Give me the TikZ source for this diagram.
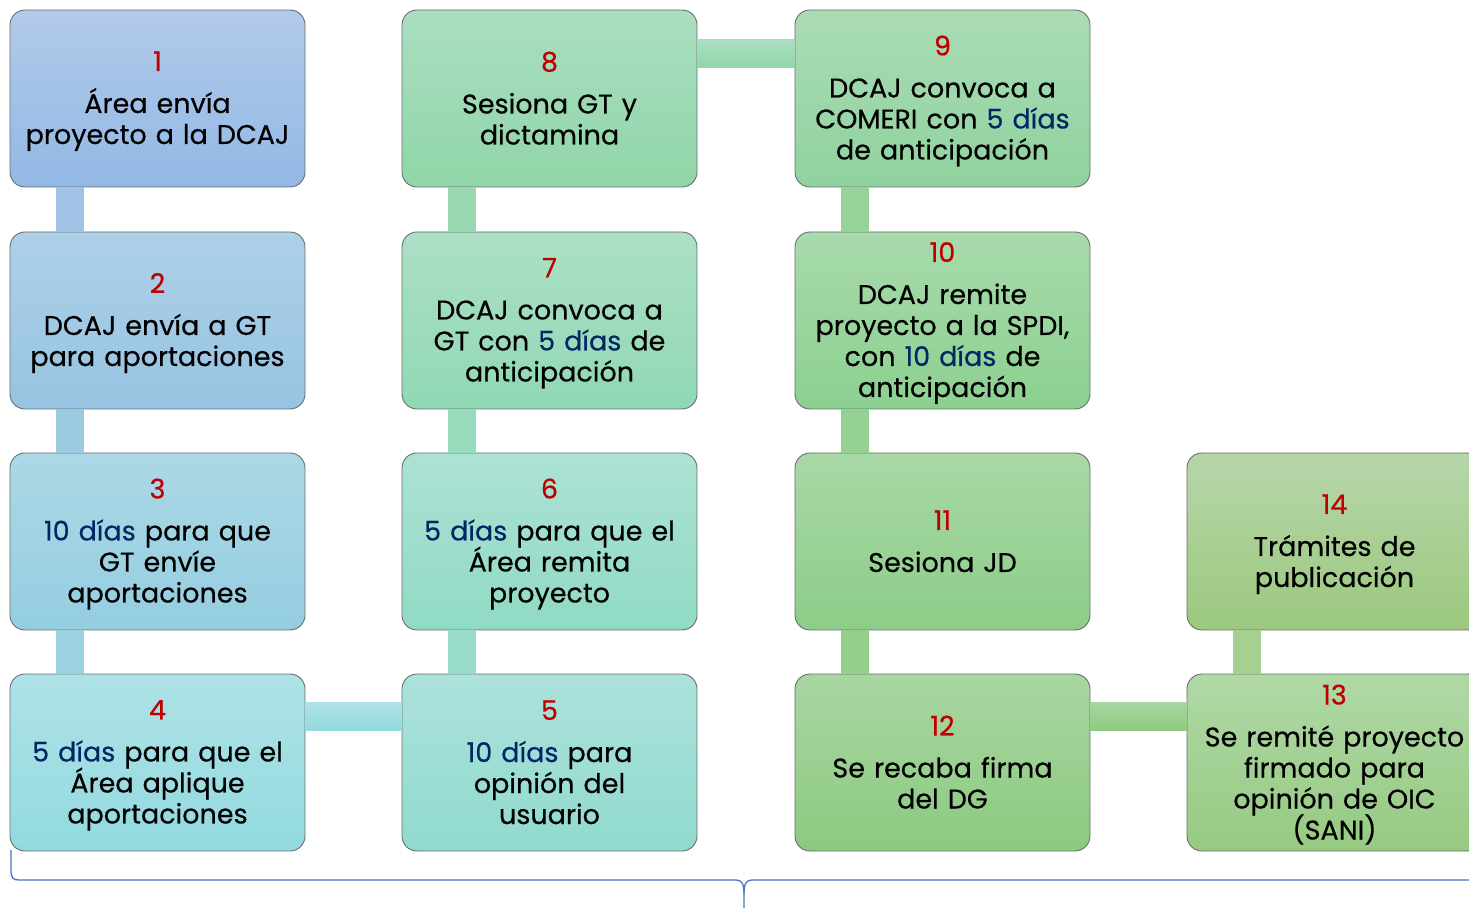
\documentclass[tikz,border=0pt]{standalone}
\usepackage{fontspec}
\setmainfont{Poppins}[RawFeature={embolden=0.4}]
\usetikzlibrary{positioning}
% Colors
\definecolor{numred}{RGB}{192,0,0}
\definecolor{diasblue}{RGB}{0,38,100}
\definecolor{bracecolor}{RGB}{72,114,196}
\definecolor{boxborder}{RGB}{105,110,108}
% box tops and bottoms
\definecolor{top1}{RGB}{178,202,234}  \definecolor{bot1}{RGB}{146,184,228}
\definecolor{top2}{RGB}{174,208,232}  \definecolor{bot2}{RGB}{150,196,226}
\definecolor{top3}{RGB}{172,216,230}  \definecolor{bot3}{RGB}{148,206,224}
\definecolor{top4}{RGB}{174,226,230}  \definecolor{bot4}{RGB}{146,218,224}
\definecolor{top5}{RGB}{172,226,220}  \definecolor{bot5}{RGB}{144,218,206}
\definecolor{top6}{RGB}{172,226,212}  \definecolor{bot6}{RGB}{144,218,196}
\definecolor{top7}{RGB}{172,224,198}  \definecolor{bot7}{RGB}{144,216,180}
\definecolor{top8}{RGB}{170,222,192}  \definecolor{bot8}{RGB}{144,214,168}
\definecolor{top9}{RGB}{170,220,182}  \definecolor{bot9}{RGB}{144,210,158}
\definecolor{top10}{RGB}{168,218,172} \definecolor{bot10}{RGB}{140,208,144}
\definecolor{top11}{RGB}{168,216,166} \definecolor{bot11}{RGB}{140,205,136}
\definecolor{top12}{RGB}{168,214,162} \definecolor{bot12}{RGB}{140,202,128}
\definecolor{top13}{RGB}{176,216,166} \definecolor{bot13}{RGB}{150,202,130}
\definecolor{top14}{RGB}{182,214,170} \definecolor{bot14}{RGB}{156,200,126}
% connectors
\definecolor{barA}{RGB}{160,194,229}
\definecolor{barB}{RGB}{156,202,225}
\definecolor{barC}{RGB}{154,210,225}
\definecolor{barD}{RGB}{153,219,202}
\definecolor{barE}{RGB}{153,219,189}
\definecolor{barF}{RGB}{153,216,177}
\definecolor{barG}{RGB}{150,211,154}
\definecolor{barH}{RGB}{149,209,146}
\definecolor{barI}{RGB}{149,207,140}
\definecolor{barJ}{RGB}{168,207,146}
\newcommand{\boxfont}{\fontsize{27}{31}\selectfont\lineskiplimit=-20pt\relax}
\tikzset{
    % Boxes
    stepbox/.style={draw=boxborder,line width=0.9pt,rounded corners=15pt,
        minimum width=295pt,minimum height=177pt,text width=292pt,
        align=center,inner sep=0pt,font=\boxfont,
        execute at end node={\rule[-6pt]{0pt}{6pt}}},
    shade box/.style={top color=top#1,bottom color=bot#1},
    %
    % Connectors
    vbar/.style={fill=#1,draw=none},
    hbar/.style 2 args={top color=#1,bottom color=#2,draw=none},
    %
    % Brace
    brace line/.style={bracecolor,line width=1.3pt}
}
\newcommand{\stepnum}[1]{\rule{0pt}{25pt}{\color{numred}#1}\\[11pt]}
\newcommand{\dias}[1]{{\color{diasblue}#1}}

\begin{document}
\begin{tikzpicture}[x=1pt,y=1pt]
        \useasboundingbox (0,0) rectangle (1469,908);
        \clip (0,0) rectangle (1469,908);
        
        % first column
        \node[stepbox,shade box=1] (b1) at (157.5,809.5)
            {\stepnum{1}Área envía\\proyecto a la DCAJ};
        \node[stepbox,shade box=2] (b2) at (157.5,587.5)
            {\stepnum{2}DCAJ envía a GT\\para aportaciones};
        \node[stepbox,shade box=3] (b3) at (157.5,366.5)
            {\stepnum{3}\dias{10 días} para que\\GT envíe\\aportaciones};
        \node[stepbox,shade box=4] (b4) at (157.5,145.5)
            {\stepnum{4}\dias{5 días} para que el\\Área aplique\\aportaciones};
        
        % second column
        \node[stepbox,shade box=5] (b5) at (549.5,145.5)
            {\stepnum{5}\dias{10 días} para\\opinión del\\usuario};
        \node[stepbox,shade box=6] (b6) at (549.5,366.5)
            {\stepnum{6}\dias{5 días} para que el\\Área remita\\proyecto};
        \node[stepbox,shade box=7] (b7) at (549.5,587.5)
            {\stepnum{7}DCAJ convoca a\\GT con \dias{5 días} de\\anticipación};
        \node[stepbox,shade box=8] (b8) at (549.5,809.5)
            {\stepnum{8}Sesiona GT y\\dictamina};
        
        % third column
        \node[stepbox,shade box=9] (b9) at (942.5,809.5)
            {\stepnum{9}DCAJ convoca a\\COMERI con \dias{5 días}\\de anticipación};
        \node[stepbox,shade box=10] (b10) at (942.5,587.5)
            {\stepnum{10}DCAJ remite\\proyecto a la SPDI,\\con \dias{10 días} de\\anticipación};
        \node[stepbox,shade box=11] (b11) at (942.5,366.5)
            {\stepnum{11}Sesiona JD};
        \node[stepbox,shade box=12] (b12) at (942.5,145.5)
            {\stepnum{12}Se recaba firma\\del DG};
        
        % fourth column
        \node[stepbox,shade box=13] (b13) at (1334.5,145.5)
            {\stepnum{13}Se remité proyecto\\firmado para\\opinión de OIC\\(SANI)};
        \node[stepbox,shade box=14] (b14) at (1334.5,366.5)
            {\stepnum{14}Trámites de\\publicación};
        
        % connectors
        \path[vbar=barA] ([xshift=46]b1.south west) rectangle ([xshift=74]b2.north west);
        \path[vbar=barB] ([xshift=46]b2.south west) rectangle ([xshift=74]b3.north west);
        \path[vbar=barC] ([xshift=46]b3.south west) rectangle ([xshift=74]b4.north west);
        \path[hbar={top4}{bot4}] ([yshift=-29]b4.north east) rectangle ([yshift=-57]b5.north west);
        \path[vbar=barD] ([xshift=46]b5.north west) rectangle ([xshift=74]b6.south west);
        \path[vbar=barE] ([xshift=46]b6.north west) rectangle ([xshift=74]b7.south west);
        \path[vbar=barF] ([xshift=46]b7.north west) rectangle ([xshift=74]b8.south west);
        \path[hbar={top8}{bot8}] ([yshift=-30]b8.north east) rectangle ([yshift=-58]b9.north west);
        \path[vbar=barG] ([xshift=46]b9.south west) rectangle ([xshift=74]b10.north west);
        \path[vbar=barH] ([xshift=46]b10.south west) rectangle ([xshift=74]b11.north west);
        \path[vbar=barI] ([xshift=46]b11.south west) rectangle ([xshift=74]b12.north west);
        \path[hbar={top12}{bot12}] ([yshift=-29]b12.north east) rectangle ([yshift=-57]b13.north west);
        \path[vbar=barJ] ([xshift=46]b13.north west) rectangle ([xshift=74]b14.south west);
        
        % brace under the steps
        \draw[brace line] (11,58) -- (11,38) .. controls (11,30) and (13,28) .. (19,28)
            -- (736,28) .. controls (742,28) and (744,24) .. (744,14) -- (744,0);
        \draw[brace line] (744,14) .. controls (744,24) and (746,28) .. (752,28) -- (1469,28);
    \end{tikzpicture}
\end{document}
